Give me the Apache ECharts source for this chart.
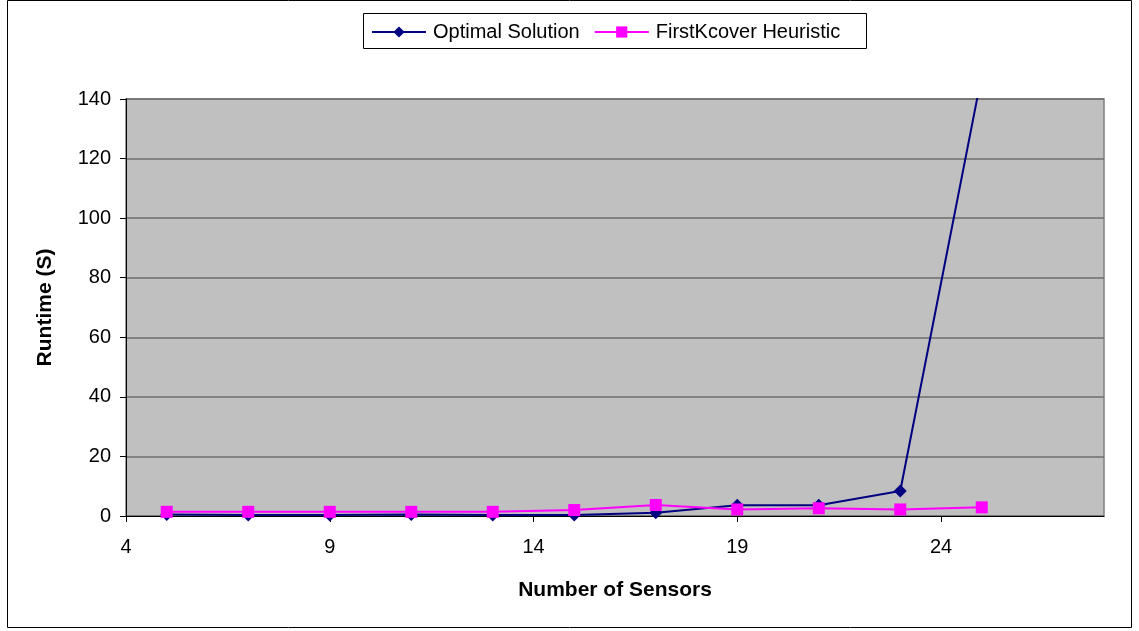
<!DOCTYPE html>
<html>
<head>
<meta charset="utf-8">
<style>
  html, body { margin: 0; padding: 0; background: #fff; }
  #chart { width: 1139px; height: 631px; }
</style>
<script src="https://cdn.jsdelivr.net/npm/echarts@6/dist/echarts.min.js"></script>
</head>
<body>
<div id="chart"></div>
<script>
// Number of sensors (x) and runtime in seconds for each method
const sensors = [5, 7, 9, 11, 13, 15, 17, 19, 21, 23, 25];
const optimalRuntime = [0.5, 0.3, 0.3, 0.5, 0.3, 0.3, 1.1, 3.6, 3.6, 8.4, 148];
const heuristicRuntime = [1.4, 1.4, 1.4, 1.4, 1.4, 2.0, 3.7, 2.2, 2.6, 2.2, 2.9];
const seriesNames = ['Optimal Solution', 'FirstKcover Heuristic'];

const FONT = '"Liberation Sans", Arial, sans-serif';

const chart = echarts.init(document.getElementById('chart'));

const grid = { left: 126, right: 35, top: 99, bottom: 115 };

chart.setOption({
  animation: false,
  backgroundColor: '#ffffff',
  textStyle: { fontFamily: FONT },
  graphic: [
    {
      type: 'rect',
      shape: { x: 7.5, y: 0.5, width: 1124, height: 627 },
      style: { fill: 'none', stroke: '#000', lineWidth: 1 },
      z: -10
    },
    {
      type: 'rect',
      shape: { x: 363.5, y: 13.5, width: 503, height: 35 },
      style: { fill: '#fff', stroke: '#000', lineWidth: 1 },
      z: 0
    }
  ],
  legend: {
    top: 17,
    left: 366,
    itemGap: 14,
    itemWidth: 54,
    itemHeight: 14,
    textStyle: { fontSize: 20, color: '#000', fontFamily: FONT, padding: [0, 0, 0, 2] },
    data: seriesNames,
    z: 5
  },
  grid: Object.assign({ backgroundColor: '#c0c0c0', show: true, borderColor: '#808080', borderWidth: 1.5 }, grid),
  xAxis: {
    type: 'value',
    min: 4,
    max: 28,
    interval: 5,
    name: 'Number of Sensors',
    nameLocation: 'middle',
    nameGap: 64,
    nameTextStyle: { fontSize: 21, fontWeight: 'bold', color: '#000', fontFamily: FONT },
    axisLine: { show: true, lineStyle: { color: '#000', width: 1 } },
    axisTick: { show: true, inside: false, length: 6, lineStyle: { color: '#000' } },
    axisLabel: { fontSize: 20, color: '#000', margin: 21, showMaxLabel: false, fontFamily: FONT },
    splitLine: { show: false }
  },
  yAxis: {
    type: 'value',
    min: 0,
    max: 140,
    interval: 20,
    name: 'Runtime (S)',
    nameLocation: 'middle',
    nameGap: 70,
    nameRotate: 90,
    nameTextStyle: { fontSize: 21, fontWeight: 'bold', color: '#000', fontFamily: FONT },
    axisLine: { show: true, lineStyle: { color: '#000', width: 1 } },
    axisTick: { show: true, inside: false, length: 6, lineStyle: { color: '#000' } },
    axisLabel: { fontSize: 20, color: '#000', margin: 15, fontFamily: FONT },
    splitLine: { show: true, lineStyle: { color: '#6e6e6e', width: 1.5 } }
  },
  series: [
    {
      name: seriesNames[0],
      type: 'line',
      data: sensors.map((s, i) => [s, optimalRuntime[i]]),
      symbol: 'diamond',
      symbolSize: 13,
      clip: true,
      lineStyle: { color: '#000080', width: 2 },
      itemStyle: { color: '#000080' },
      z: 2
    },
    {
      name: seriesNames[1],
      type: 'line',
      data: sensors.map((s, i) => [s, heuristicRuntime[i]]),
      symbol: 'rect',
      symbolSize: 12,
      clip: true,
      lineStyle: { color: '#ff00ff', width: 2 },
      itemStyle: { color: '#ff00ff' },
      z: 3
    }
  ]
});
</script>
</body>
</html>
